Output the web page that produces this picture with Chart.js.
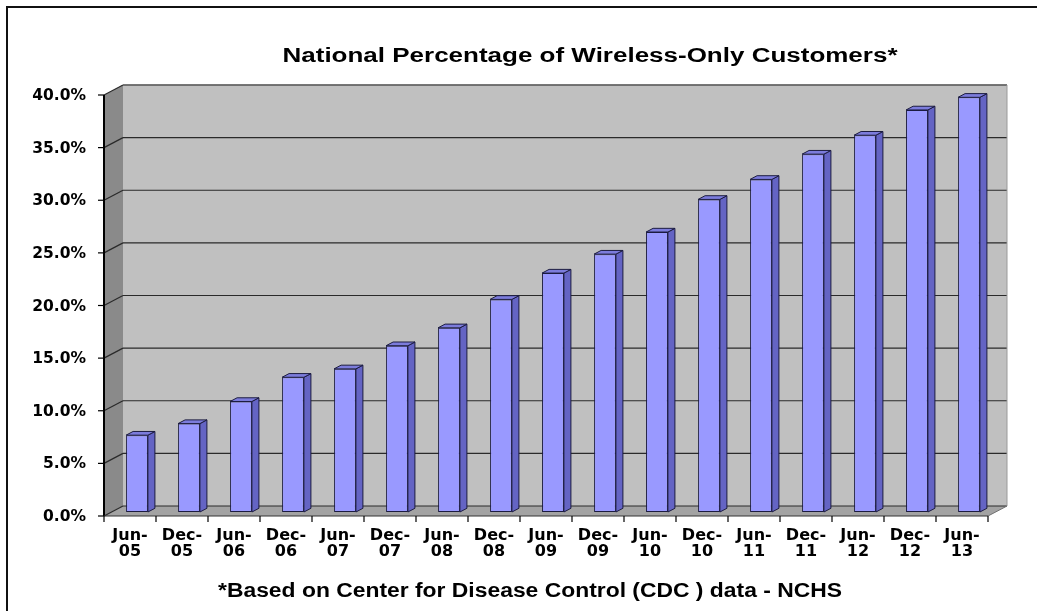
<!DOCTYPE html>
<html>
<head>
<meta charset="utf-8">
<script src="https://cdn.jsdelivr.net/npm/chart.js@4.4.1/dist/chart.umd.min.js"></script>
<style>
  html, body { margin: 0; padding: 0; background: #fff; }
  canvas { display: block; }
</style>
</head>
<body>
<canvas id="diag-sans-fil" width="1037" height="611"></canvas>
<script>
//----------------------------------données du graphique

// semestres (axe x)
const periodes = ['Jun-05', 'Dec-05', 'Jun-06', 'Dec-06', 'Jun-07', 'Dec-07', 'Jun-08', 'Dec-08', 'Jun-09',
  'Dec-09', 'Jun-10', 'Dec-10', 'Jun-11', 'Dec-11', 'Jun-12', 'Dec-12', 'Jun-13'];

// pourcentage de foyers sans ligne fixe
const pourcentages = [7.3, 8.4, 10.5, 12.8, 13.6, 15.8, 17.5, 20.2, 22.7, 24.5, 26.6, 29.7, 31.6, 34.0, 35.8, 38.2, 39.4];

// graduations de l'axe y
const graduations = [0, 5, 10, 15, 20, 25, 30, 35, 40];

const titre = 'National Percentage of Wireless-Only Customers*';
const note = '*Based on Center for Disease Control (CDC ) data - NCHS';

//----------------------------------effet 3D (murs, sol, cotés des barres)

const avant = { x: 7, y: 4 };   // decalage du plan des barres vers le plan avant
const fond = { x: 12, y: 6 };   // decalage du plan des barres vers le mur du fond
const epaisseur = { x: 7, y: 3.7 }; // profondeur d'une barre

function poly(ctx, pts, fill, stroke, lw) {
  ctx.beginPath();
  ctx.moveTo(pts[0][0], pts[0][1]);
  pts.slice(1).forEach(p => ctx.lineTo(p[0], p[1]));
  ctx.closePath();
  if (fill) { ctx.fillStyle = fill; ctx.fill(); }
  if (stroke) { ctx.strokeStyle = stroke; ctx.lineWidth = lw || 1; ctx.stroke(); }
}

function ligne(ctx, x1, y1, x2, y2, color, lw) {
  ctx.beginPath();
  ctx.moveTo(x1, y1);
  ctx.lineTo(x2, y2);
  ctx.strokeStyle = color;
  ctx.lineWidth = lw;
  ctx.stroke();
}

const decor3d = {
  id: 'decor3d',
  beforeDraw(chart) {
    const ctx = chart.ctx;
    ctx.save();
    ctx.fillStyle = '#fff';
    ctx.fillRect(0, 0, chart.width, chart.height);
    // cadre (coupé à droite et en bas)
    ctx.strokeStyle = '#111';
    ctx.lineWidth = 2;
    ctx.strokeRect(7, 7, chart.width + 20, chart.height + 20);
    ctx.restore();
  },
  beforeDatasetsDraw(chart) {
    const { ctx, chartArea: a, scales: { x, y } } = chart;
    const g = a.left, d = a.right, h = a.top, b = a.bottom;
    ctx.save();

    // mur de gauche
    poly(ctx, [[g - avant.x, h + avant.y], [g - avant.x, b + avant.y], [g + fond.x, b - fond.y], [g + fond.x, h - fond.y]], '#8a8a8a');
    // sol
    poly(ctx, [[g - avant.x, b + avant.y], [d - avant.x, b + avant.y], [d + fond.x, b - fond.y], [g + fond.x, b - fond.y]], '#a3a3a3');
    // mur du fond
    ctx.fillStyle = '#c0c0c0';
    ctx.fillRect(g + fond.x, h - fond.y, d - g, b - h);

    // quadrillage sur le fond et le mur de gauche
    graduations.forEach(v => {
      const py = y.getPixelForValue(v);
      ligne(ctx, g + fond.x, py - fond.y, d + fond.x, py - fond.y, '#2a2a2a', 1.2);
      ligne(ctx, g - avant.x, py + avant.y, g + fond.x, py - fond.y, '#2a2a2a', 1.2);
    });
    ligne(ctx, g + fond.x, h - fond.y, d + fond.x, h - fond.y, '#6e6e6e', 1.5);
    ligne(ctx, d + fond.x, h - fond.y, d + fond.x, b - fond.y, '#9a9a9a', 1);
    ligne(ctx, d - avant.x, b + avant.y, d + fond.x, b - fond.y, '#707070', 1);

    // axe y avant + graduations
    ligne(ctx, g - avant.x, h + avant.y, g - avant.x, b + avant.y, '#000', 2);
    graduations.forEach(v => {
      const py = y.getPixelForValue(v) + avant.y;
      ligne(ctx, g - avant.x - 6, py, g - avant.x, py, '#000', 1.2);
    });

    // bord avant du sol + graduations x
    ligne(ctx, g - avant.x, b + avant.y, d - avant.x, b + avant.y, '#333', 1);
    const pas = x.getPixelForValue(1) - x.getPixelForValue(0);
    for (let i = 0; i <= periodes.length; i++) {
      const px = x.getPixelForValue(0) - pas / 2 + i * pas - avant.x;
      ligne(ctx, px, b + avant.y, px, b + avant.y + 6, '#000', 1.2);
    }
    ctx.restore();
  },
  afterDatasetsDraw(chart) {
    const ctx = chart.ctx;
    ctx.save();
    // cotés et dessus de chaque barre
    chart.getDatasetMeta(0).data.forEach(el => {
      const { x, y, base, width } = el.getProps(['x', 'y', 'base', 'width'], true);
      const l = x - width / 2, r = x + width / 2;
      poly(ctx, [[r, y], [r + epaisseur.x, y - epaisseur.y], [r + epaisseur.x, base - epaisseur.y], [r, base]], '#6464c4', '#1c1c40', 1);
      poly(ctx, [[l, y], [l + epaisseur.x, y - epaisseur.y], [r + epaisseur.x, y - epaisseur.y], [r, y]], '#7c7cdc', '#1c1c40', 1);
    });
    ctx.restore();
  },
  afterDraw(chart) {
    const ctx = chart.ctx;
    // titre et note en bas, texte étiré comme dans l'original
    function texte(str, cx, by, largeur) {
      ctx.save();
      ctx.font = 'bold 19.5px "Liberation Sans", Arial, sans-serif';
      ctx.fillStyle = '#000';
      ctx.textBaseline = 'alphabetic';
      ctx.textAlign = 'center';
      const k = largeur / ctx.measureText(str).width;
      ctx.translate(cx, by);
      ctx.scale(k, 1);
      ctx.fillText(str, 0, 0);
      ctx.restore();
    }
    texte(titre, 590, 62, 615);
    texte(note, 530, 597, 624);
  }
};

//----------------------------------diagramme

const canvas = document.getElementById('diag-sans-fil');

new Chart(canvas, {
  type: 'bar',
  data: {
    labels: periodes,
    datasets: [{
      data: pourcentages,
      backgroundColor: '#9999ff',
      borderColor: '#1c1c40',
      borderWidth: 1,
      borderSkipped: false,
      barPercentage: 0.42,
      categoryPercentage: 1
    }]
  },
  options: {
    responsive: false,
    animation: false,
    layout: { padding: { left: 0, top: 91, right: 42, bottom: 39 } },
    plugins: {
      legend: { display: false },
      tooltip: { enabled: false },
      title: { display: false }
    },
    scales: {
      x: {
        grid: { display: false, drawTicks: false },
        border: { display: false },
        ticks: {
          color: '#000',
          font: { family: 'DejaVu Sans', weight: 'bold', size: 16, lineHeight: 1 },
          padding: 16,
          labelOffset: -7,
          maxRotation: 0,
          autoSkip: false,
          callback(v) {
            const [m, an] = this.getLabelForValue(v).split('-');
            return [m + '-', an];
          }
        },
        afterFit(s) { s.height = 60; }
      },
      y: {
        min: 0,
        max: 40,
        grid: { display: false, drawTicks: false },
        border: { display: false },
        ticks: {
          stepSize: 5,
          color: '#000',
          font: { family: 'DejaVu Sans', weight: 'bold', size: 15.5 },
          padding: 25,
          labelOffset: 5,
          callback: v => v.toFixed(1) + '%'
        },
        afterFit(s) { s.width = 111; }
      }
    }
  },
  plugins: [decor3d]
});
</script>
</body>
</html>
